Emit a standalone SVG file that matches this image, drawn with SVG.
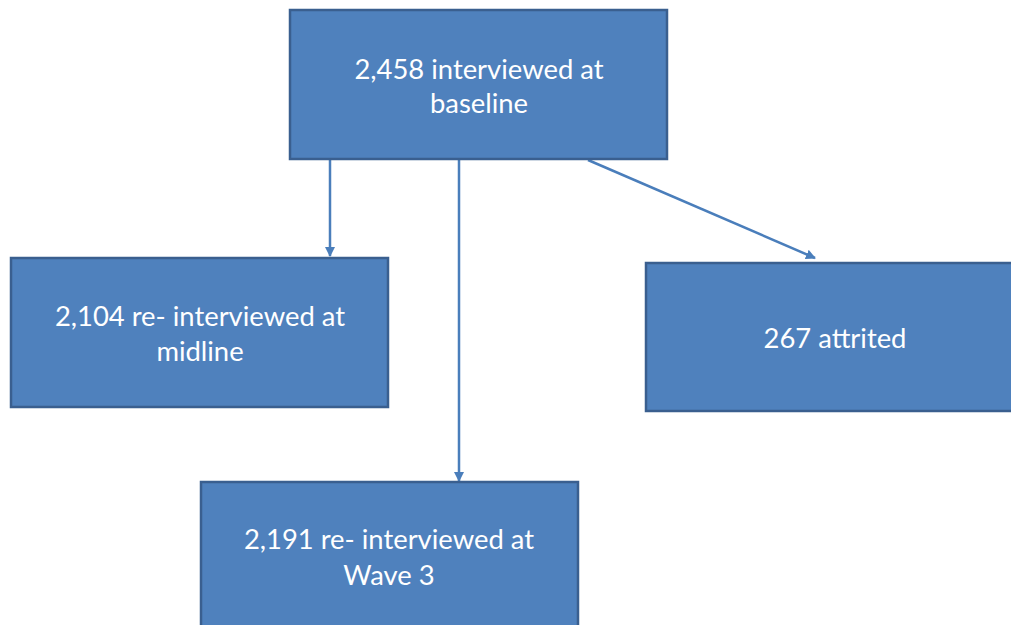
<svg xmlns="http://www.w3.org/2000/svg" width="1011" height="625" viewBox="0 0 1011 625">
<style>
.box{fill:#4f81bd;stroke:#3a5f8f;stroke-width:2.5}
.lbl{fill:#ffffff;font-family:Lato,"Open Sans","Liberation Sans",sans-serif;font-size:27.4px;text-anchor:middle}
.conn{stroke:#4a7ebb;stroke-width:2.5;fill:none;marker-end:url(#ah)}
</style>
<defs>
<marker id="ah" viewBox="0 0 10 10" refX="9" refY="5" markerWidth="4" markerHeight="4" orient="auto" markerUnits="strokeWidth">
<path d="M0,0 L10,5 L0,10 z" fill="#4a7ebb"/>
</marker>
</defs>
<rect width="1011" height="625" fill="#ffffff"/>
<g id="connectors">
<line class="conn" x1="330" y1="160" x2="330" y2="256"/>
<line class="conn" x1="459" y1="160" x2="459" y2="481"/>
<line class="conn" x1="588" y1="160" x2="815" y2="258"/>
</g>
<g id="baseline">
<rect class="box" x="290" y="10" width="377" height="149"/>
<text class="lbl" x="479" y="79">2,458 interviewed at</text>
<text class="lbl" x="479" y="113">baseline</text>
</g>
<g id="midline">
<rect class="box" x="11" y="258" width="377" height="149"/>
<text class="lbl" x="200" y="326">2,104 re- interviewed at</text>
<text class="lbl" x="200" y="361">midline</text>
</g>
<g id="attrited">
<rect class="box" x="646" y="263" width="378" height="148"/>
<text class="lbl" x="835" y="348">267 attrited</text>
</g>
<g id="wave3">
<rect class="box" x="201" y="482" width="377" height="160"/>
<text class="lbl" x="389" y="549">2,191 re- interviewed at</text>
<text class="lbl" x="389" y="585">Wave 3</text>
</g>
</svg>
